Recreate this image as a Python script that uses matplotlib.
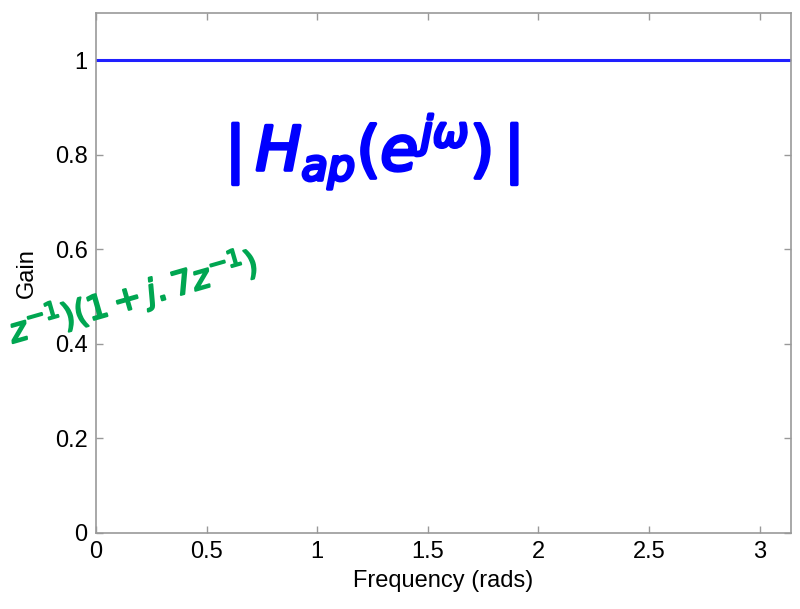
import numpy as np
import matplotlib.pyplot as plt
import matplotlib.patheffects as pe

plt.rcParams['font.family'] = ['Liberation Sans', 'DejaVu Sans']

# all-pass filter: gain is flat across the band
freq = [0.0, np.pi]
gain = [1.0, 1.0]
xticks = [0, 0.5, 1, 1.5, 2, 2.5, 3]
yticks = [0, 0.2, 0.4, 0.6, 0.8, 1]

fig = plt.figure(figsize=(8, 6.09), dpi=100)
ax = fig.add_axes([0.12, 0.1248, 0.86875, 0.8539])

ax.plot(freq, gain, color='#2020ff', lw=2.2)
ax.set_xlim(0, np.pi)
ax.set_ylim(0, 1.1)
ax.set_xticks(xticks)
ax.set_xticklabels(['0', '0.5', '1', '1.5', '2', '2.5', '3'])
ax.set_yticks(yticks)
ax.set_yticklabels(['0', '0.2', '0.4', '0.6', '0.8', '1'])

for s in ax.spines.values():
    s.set_color('#999999')
    s.set_linewidth(1.2)
ax.tick_params(direction='in', length=5, width=1, color='#999999',
               labelsize=17, top=True, right=True, pad=6)
ax.set_xlabel('Frequency (rads)', fontsize=17, labelpad=5)
ax.set_ylabel('Gain', fontsize=17, labelpad=12)

# hand-written notes, thickened to look like marker strokes
marker_blue = [pe.withStroke(linewidth=2.5, foreground='#0000ff')]
marker_green = [pe.withStroke(linewidth=1.5, foreground='#00a651')]
fig.text(0.465, 0.75, r'$|\,H_{ap}(e^{j\omega})\,|$', color='#0000ff',
         fontsize=44, ha='center', va='center', path_effects=marker_blue)
fig.text(0.012, 0.455, r'$z^{-1})(1+j.7z^{-1})$', color='#00a651',
         fontsize=24, ha='left', va='center', rotation=16,
         rotation_mode='anchor', path_effects=marker_green)

fig.savefig('out.png', dpi=100)
